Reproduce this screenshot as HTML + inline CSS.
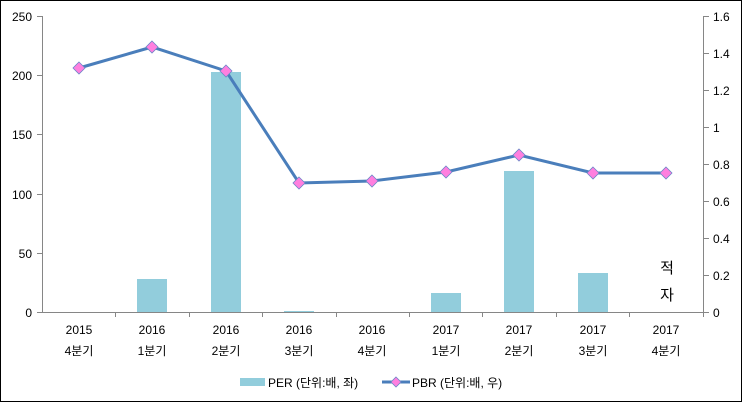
<!DOCTYPE html>
<html><head><meta charset="utf-8"><style>
html,body{margin:0;padding:0;background:#fff}
svg{display:block}
text{font-family:"Liberation Sans","Noto Sans CJK KR",sans-serif;font-size:12px;fill:#000}
</style></head><body>
<svg width="743" height="403" viewBox="0 0 743 403">
<rect x="0.5" y="0.5" width="741" height="401" fill="#fff" stroke="#000"/>
<!-- axes -->
<g stroke="#868686" stroke-width="1">
<line x1="42.5" y1="16" x2="42.5" y2="312"/>
<line x1="703.5" y1="16" x2="703.5" y2="312"/>
<line x1="42" y1="312.5" x2="704" y2="312.5"/>
<line x1="37" y1="16.5" x2="42" y2="16.5"/><line x1="37" y1="75.5" x2="42" y2="75.5"/><line x1="37" y1="134.5" x2="42" y2="134.5"/><line x1="37" y1="194.5" x2="42" y2="194.5"/><line x1="37" y1="253.5" x2="42" y2="253.5"/><line x1="37" y1="312.5" x2="42" y2="312.5"/>
<line x1="704" y1="16.5" x2="709" y2="16.5"/><line x1="704" y1="53.5" x2="709" y2="53.5"/><line x1="704" y1="90.5" x2="709" y2="90.5"/><line x1="704" y1="127.5" x2="709" y2="127.5"/><line x1="704" y1="164.5" x2="709" y2="164.5"/><line x1="704" y1="201.5" x2="709" y2="201.5"/><line x1="704" y1="238.5" x2="709" y2="238.5"/><line x1="704" y1="275.5" x2="709" y2="275.5"/><line x1="704" y1="312.5" x2="709" y2="312.5"/>
<line x1="115.5" y1="312" x2="115.5" y2="317"/><line x1="189.5" y1="312" x2="189.5" y2="317"/><line x1="262.5" y1="312" x2="262.5" y2="317"/><line x1="336.5" y1="312" x2="336.5" y2="317"/><line x1="409.5" y1="312" x2="409.5" y2="317"/><line x1="482.5" y1="312" x2="482.5" y2="317"/><line x1="556.5" y1="312" x2="556.5" y2="317"/><line x1="629.5" y1="312" x2="629.5" y2="317"/><line x1="703.5" y1="312" x2="703.5" y2="317"/>
</g>
<g text-anchor="end">
<text x="32" y="21">250</text><text x="32" y="80">200</text><text x="32" y="139">150</text><text x="32" y="199">100</text><text x="32" y="258">50</text><text x="32" y="317">0</text>
</g>
<g>
<text x="713" y="21">1.6</text><text x="713" y="58">1.4</text><text x="713" y="95">1.2</text><text x="713" y="132">1</text><text x="713" y="169">0.8</text><text x="713" y="206">0.6</text><text x="713" y="243">0.4</text><text x="713" y="280">0.2</text><text x="713" y="317">0</text>
</g>
<!-- bars -->
<g fill="#92cddc">
<rect x="137" y="279" width="30" height="33"/>
<rect x="211" y="72" width="30" height="240"/>
<rect x="284" y="311" width="30" height="1"/>
<rect x="431" y="293" width="30" height="19"/>
<rect x="504" y="171" width="30" height="141"/>
<rect x="578" y="273" width="30" height="39"/>
</g>
<!-- line -->
<polyline fill="none" stroke="#4a7ebb" stroke-width="3" points="79,68 152,47 226,71 299,183 372,181 446,172 519,155 593,173 666,173"/>
<g fill="#ff7fdf" stroke="#6d86c8" stroke-width="0.8">
<path d="M79,62 l6,6 l-6,6 l-6,-6z"/><path d="M152,41 l6,6 l-6,6 l-6,-6z"/><path d="M226,65 l6,6 l-6,6 l-6,-6z"/><path d="M299,177 l6,6 l-6,6 l-6,-6z"/><path d="M372,175 l6,6 l-6,6 l-6,-6z"/><path d="M446,166 l6,6 l-6,6 l-6,-6z"/><path d="M519,149 l6,6 l-6,6 l-6,-6z"/><path d="M593,167 l6,6 l-6,6 l-6,-6z"/><path d="M666,167 l6,6 l-6,6 l-6,-6z"/>
</g>
<text x="667" y="273" text-anchor="middle" style="font-size:15px">적</text>
<text x="667" y="300" text-anchor="middle" style="font-size:15px">자</text>
<!-- x labels -->
<g text-anchor="middle">
<text x="79" y="334">2015</text><text x="79" y="355">4분기</text>
<text x="152" y="334">2016</text><text x="152" y="355">1분기</text>
<text x="226" y="334">2016</text><text x="226" y="355">2분기</text>
<text x="299" y="334">2016</text><text x="299" y="355">3분기</text>
<text x="372" y="334">2016</text><text x="372" y="355">4분기</text>
<text x="446" y="334">2017</text><text x="446" y="355">1분기</text>
<text x="519" y="334">2017</text><text x="519" y="355">2분기</text>
<text x="593" y="334">2017</text><text x="593" y="355">3분기</text>
<text x="666" y="334">2017</text><text x="666" y="355">4분기</text>
</g>
<!-- legend -->
<rect x="240" y="378" width="25" height="8" fill="#92cddc"/>
<text x="268" y="387">PER (단위:배, 좌)</text>
<line x1="382" y1="382" x2="410" y2="382" stroke="#4a7ebb" stroke-width="3"/>
<path d="M396,377 l5,5 l-5,5 l-5,-5z" fill="#ff7fdf" stroke="#6d86c8" stroke-width="0.8"/>
<text x="412" y="387">PBR (단위:배, 우)</text>
</svg>
</body></html>
